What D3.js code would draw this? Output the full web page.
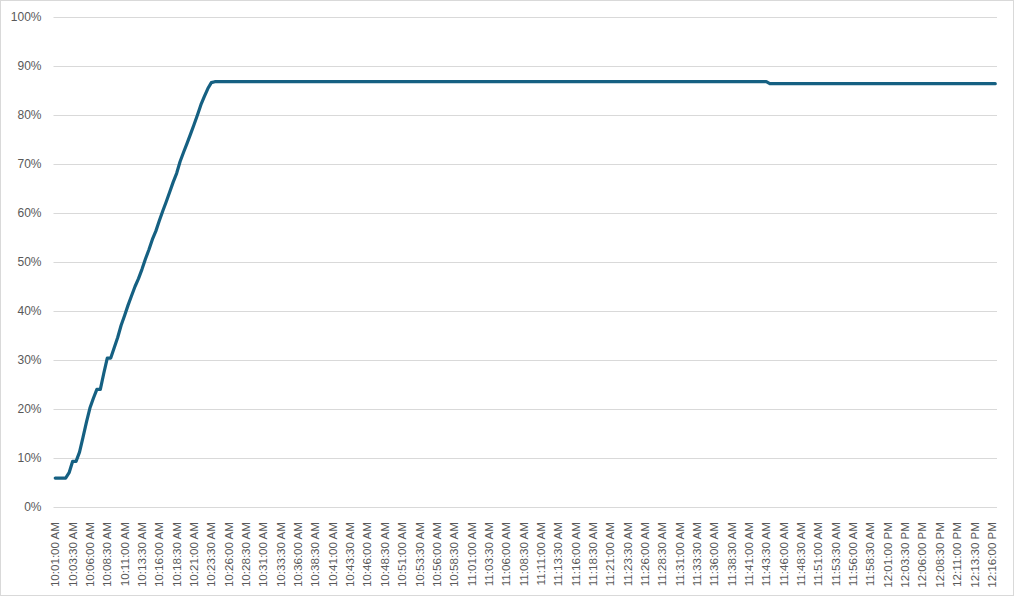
<!DOCTYPE html>
<html>
<head>
<meta charset="utf-8">
<script src="https://cdn.jsdelivr.net/npm/d3@7"></script>
<style>
  body { margin: 0; background: #fff; }
  text { font-family: "Liberation Sans", Arial, sans-serif; fill: #595959; }
</style>
</head>
<body>
<div id="chart"></div>
<script>
// readings every 30 seconds, starting 10:01:00 AM
const startTime = "10:01:00 AM";
const stepSeconds = 30;
const labelEvery = 5; // one axis label per 2.5 minutes

// percent complete
const percentValues = [
  5.9, 5.9, 5.9, 5.9, 7.0, 9.3, 9.3, 11.2, 14.2, 17.3, 20.2, 22.2, 24.0, 24.0, 27.3, 30.4, 30.4, 32.5, 34.6, 37.1,
  39.1, 41.2, 43.1, 45.0, 46.6, 48.5, 50.6, 52.5, 54.6, 56.3, 58.4, 60.4, 62.3, 64.3, 66.3, 68.1, 70.5, 72.4, 74.2, 76.1,
  78.0, 80.0, 82.1, 83.8, 85.4, 86.6, 86.8, 86.8, 86.8, 86.8, 86.8, 86.8, 86.8, 86.8, 86.8, 86.8, 86.8, 86.8, 86.8, 86.8,
  86.8, 86.8, 86.8, 86.8, 86.8, 86.8, 86.8, 86.8, 86.8, 86.8, 86.8, 86.8, 86.8, 86.8, 86.8, 86.8, 86.8, 86.8, 86.8, 86.8,
  86.8, 86.8, 86.8, 86.8, 86.8, 86.8, 86.8, 86.8, 86.8, 86.8, 86.8, 86.8, 86.8, 86.8, 86.8, 86.8, 86.8, 86.8, 86.8, 86.8,
  86.8, 86.8, 86.8, 86.8, 86.8, 86.8, 86.8, 86.8, 86.8, 86.8, 86.8, 86.8, 86.8, 86.8, 86.8, 86.8, 86.8, 86.8, 86.8, 86.8,
  86.8, 86.8, 86.8, 86.8, 86.8, 86.8, 86.8, 86.8, 86.8, 86.8, 86.8, 86.8, 86.8, 86.8, 86.8, 86.8, 86.8, 86.8, 86.8, 86.8,
  86.8, 86.8, 86.8, 86.8, 86.8, 86.8, 86.8, 86.8, 86.8, 86.8, 86.8, 86.8, 86.8, 86.8, 86.8, 86.8, 86.8, 86.8, 86.8, 86.8,
  86.8, 86.8, 86.8, 86.8, 86.8, 86.8, 86.8, 86.8, 86.8, 86.8, 86.8, 86.8, 86.8, 86.8, 86.8, 86.8, 86.8, 86.8, 86.8, 86.8,
  86.8, 86.8, 86.8, 86.8, 86.8, 86.8, 86.8, 86.8, 86.8, 86.8, 86.8, 86.8, 86.8, 86.8, 86.8, 86.8, 86.8, 86.8, 86.8, 86.8,
  86.8, 86.8, 86.8, 86.8, 86.8, 86.8, 86.4, 86.4, 86.4, 86.4, 86.4, 86.4, 86.4, 86.4, 86.4, 86.4, 86.4, 86.4, 86.4, 86.4,
  86.4, 86.4, 86.4, 86.4, 86.4, 86.4, 86.4, 86.4, 86.4, 86.4, 86.4, 86.4, 86.4, 86.4, 86.4, 86.4, 86.4, 86.4, 86.4, 86.4,
  86.4, 86.4, 86.4, 86.4, 86.4, 86.4, 86.4, 86.4, 86.4, 86.4, 86.4, 86.4, 86.4, 86.4, 86.4, 86.4, 86.4, 86.4, 86.4, 86.4,
  86.4, 86.4, 86.4, 86.4, 86.4, 86.4, 86.4, 86.4, 86.4, 86.4, 86.4, 86.4
];

const yTicks = [0, 10, 20, 30, 40, 50, 60, 70, 80, 90, 100];

const width = 1014, height = 596;
const plot = { left: 53.5, right: 997, top: 17, bottom: 507 };

const parseTime = d3.timeParse("%I:%M:%S %p");
const formatTime = d3.timeFormat("%-I:%M:%S %p");
const t0 = parseTime(startTime);
const categories = percentValues.map((v, i) => formatTime(d3.timeSecond.offset(t0, i * stepSeconds)));

const svg = d3.select("#chart").append("svg")
    .attr("width", width)
    .attr("height", height);

// outer chart border
svg.append("rect")
    .attr("x", 0.5).attr("y", 0.5)
    .attr("width", width - 1).attr("height", height - 1)
    .attr("fill", "#fff")
    .attr("stroke", "#d9d9d9");

const x = d3.scaleBand()
    .domain(categories)
    .range([plot.left, plot.right])
    .padding(0);

const y = d3.scaleLinear()
    .domain([0, 100])
    .range([plot.bottom, plot.top]);

// gridlines + y labels
const yAxis = svg.append("g")
    .attr("transform", `translate(${plot.left},0)`)
    .call(d3.axisLeft(y)
        .tickValues(yTicks)
        .tickSize(-(plot.right - plot.left))
        .tickPadding(12)
        .tickFormat(d => d + "%"));
yAxis.select(".domain").remove();
yAxis.selectAll(".tick line").attr("stroke", "#d9d9d9").attr("stroke-width", 1);
yAxis.selectAll(".tick text")
    .attr("font-size", "12px")
    .attr("fill", "#595959")
    .style("font-family", "Liberation Sans, Arial, sans-serif");

// x axis labels, every 5th category
const xAxis = svg.append("g")
    .attr("transform", `translate(0,${plot.bottom})`)
    .call(d3.axisBottom(x)
        .tickValues(categories.filter((c, i) => i % labelEvery === 0))
        .tickSize(0)
        .tickPadding(0));
xAxis.select(".domain").remove();
xAxis.selectAll(".tick text")
    .attr("font-size", "11.6px")
    .attr("fill", "#595959")
    .style("font-family", "Liberation Sans, Arial, sans-serif")
    .attr("text-anchor", "end")
    .attr("transform", "rotate(-90)")
    .attr("x", -15)
    .attr("y", 0)
    .attr("dy", "0.35em");

const line = d3.line()
    .x((d, i) => x(categories[i]) + x.bandwidth() / 2)
    .y(d => y(d))
    .curve(d3.curveLinear);

svg.append("path")
    .datum(percentValues)
    .attr("fill", "none")
    .attr("stroke", "#156082")
    .attr("stroke-width", 3.2)
    .attr("stroke-linejoin", "round")
    .attr("stroke-linecap", "round")
    .attr("d", line);
</script>
</body>
</html>
